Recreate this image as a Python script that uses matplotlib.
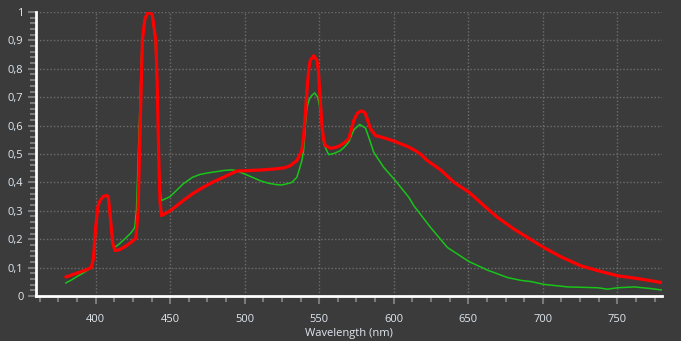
import matplotlib.pyplot as plt
from matplotlib.ticker import MultipleLocator, FuncFormatter

# spectrum readings (wavelength nm, relative intensity)
red_nm = [380, 383, 386, 390, 394, 397, 398.5, 400, 401.5, 403, 405, 407, 408.5, 410,
          411.5, 413, 416, 420.6, 424, 427, 428.5, 430, 431.4, 433, 435, 436.5, 438,
          440.4, 441.3, 442.3, 443.2, 444.2, 450, 458.8, 465, 472.2, 479, 485.7, 494.7,
          503.6, 512, 521.6, 527, 530.6, 535, 538.4, 539.5, 540.7, 541.8, 543, 544,
          546.3, 548.5, 549.5, 550.3, 551.9, 553, 554.1, 557.5, 561, 564.2, 567, 569.8,
          571.5, 573.2, 575.5, 577.7, 579.5, 581, 584.4, 587.8, 594, 600, 609, 613.5,
          618, 622.5, 631.5, 640.5, 650.6, 660.6, 669.6, 680.8, 689.8, 700.6, 712.2,
          725.7, 739.2, 750.4, 761.6, 770, 780]
red_val = [0.067, 0.072, 0.078, 0.085, 0.093, 0.100, 0.13, 0.24, 0.315, 0.336, 0.350,
           0.354, 0.350, 0.27, 0.185, 0.160, 0.163, 0.177, 0.190, 0.204, 0.30, 0.62,
           0.90, 0.975, 0.998, 1.0, 0.99, 0.90, 0.75, 0.50, 0.33, 0.283, 0.300, 0.336,
           0.360, 0.383, 0.402, 0.418, 0.440, 0.442, 0.444, 0.448, 0.452, 0.459, 0.477,
           0.512, 0.56, 0.64, 0.724, 0.80, 0.83, 0.846, 0.83, 0.79, 0.724, 0.595, 0.55,
           0.53, 0.52, 0.523, 0.53, 0.54, 0.554, 0.585, 0.618, 0.643, 0.651, 0.650,
           0.642, 0.589, 0.565, 0.556, 0.546, 0.527, 0.515, 0.500, 0.477, 0.444, 0.400,
           0.365, 0.318, 0.277, 0.235, 0.206, 0.171, 0.138, 0.106, 0.086, 0.071, 0.063,
           0.056, 0.047]

green_nm = [380, 384, 388, 392, 397, 398.5, 400, 401.5, 403, 405, 407, 408.5, 410, 411.5,
            412.8, 416, 420.6, 424, 426.2, 427.4, 429, 431, 433, 435, 436.5, 438, 440,
            441.5, 442.5, 443.5, 444.2, 450, 458.8, 465, 470, 476, 481.2, 486, 491.3,
            494, 497, 503, 510.4, 516, 521.6, 525, 528.3, 531.7, 535, 536.1, 538.4,
            539.5, 540.7, 541.8, 543.5, 545.2, 547, 549, 550.2, 551.2, 553, 556.3, 560,
            564.2, 567, 569.8, 573.2, 577.2, 581, 583.5, 586.6, 593.3, 601.2, 610.2,
            613.5, 624.8, 636, 650.6, 663, 676.4, 685.3, 692, 700.6, 716.7, 736.9,
            743.6, 750, 761.6, 772.8, 780]
green_val = [0.046, 0.057, 0.070, 0.082, 0.100, 0.13, 0.22, 0.312, 0.335, 0.35, 0.352,
             0.345, 0.26, 0.185, 0.171, 0.184, 0.206, 0.224, 0.241, 0.30, 0.55, 0.88,
             0.97, 0.995, 0.998, 0.985, 0.90, 0.70, 0.45, 0.36, 0.336, 0.350, 0.395,
             0.418, 0.428, 0.434, 0.438, 0.442, 0.444, 0.442, 0.436, 0.423, 0.406,
             0.397, 0.392, 0.391, 0.395, 0.400, 0.418, 0.436, 0.477, 0.512, 0.60,
             0.665, 0.695, 0.707, 0.715, 0.700, 0.67, 0.63, 0.536, 0.498, 0.502, 0.512,
             0.525, 0.542, 0.585, 0.604, 0.592, 0.555, 0.506, 0.453, 0.406, 0.347,
             0.318, 0.241, 0.171, 0.121, 0.091, 0.065, 0.055, 0.051, 0.041, 0.032,
             0.029, 0.024, 0.029, 0.032, 0.026, 0.021]

bg = "#3b3b3b"
txt = "#dfe7ef"
plt.rcParams['font.family'] = ['Open Sans', 'DejaVu Sans']

fig = plt.figure(figsize=(6.81, 3.41), dpi=100, facecolor=bg)
ax = fig.add_axes([36 / 681, 45 / 341, 626 / 681, 284 / 341], facecolor=bg)

ax.plot(green_nm, green_val, color="#19c419", lw=1.1, zorder=3)
ax.plot(red_nm, red_val, color="#ff0000", lw=2.3, zorder=4, solid_capstyle="round")

ax.set_xlim(360, 780)
ax.set_ylim(0, 1)
ax.xaxis.set_major_locator(MultipleLocator(50))
ax.xaxis.set_minor_locator(MultipleLocator(12.5))
ax.yaxis.set_major_locator(MultipleLocator(0.1))
ax.yaxis.set_minor_locator(MultipleLocator(0.02))
ax.set_xticks(range(400, 751, 50))

def fmt(v, pos):
    s = "%g" % round(v, 2)
    return s.replace(".", ",")

ax.yaxis.set_major_formatter(FuncFormatter(fmt))

ax.grid(True, which="major", color="#6e6e6e", ls=(0, (1, 1.5)), lw=1.0, zorder=1)
for s in ["top", "right"]:
    ax.spines[s].set_visible(False)
for s in ["left", "bottom"]:
    ax.spines[s].set_color("white")
    ax.spines[s].set_linewidth(2)

ax.tick_params(which="major", length=6, width=1.5, color="#7a7a7a",
               labelcolor=txt, labelsize=8)
ax.tick_params(which="minor", length=4, width=1.5, color="#7a7a7a")
ax.tick_params(axis="x", pad=7)
ax.tick_params(axis="y", pad=3)

ax.set_xlabel("Wavelength (nm)", color=txt, fontsize=8, labelpad=2)

fig.savefig("out.png", dpi=100, facecolor=bg)
